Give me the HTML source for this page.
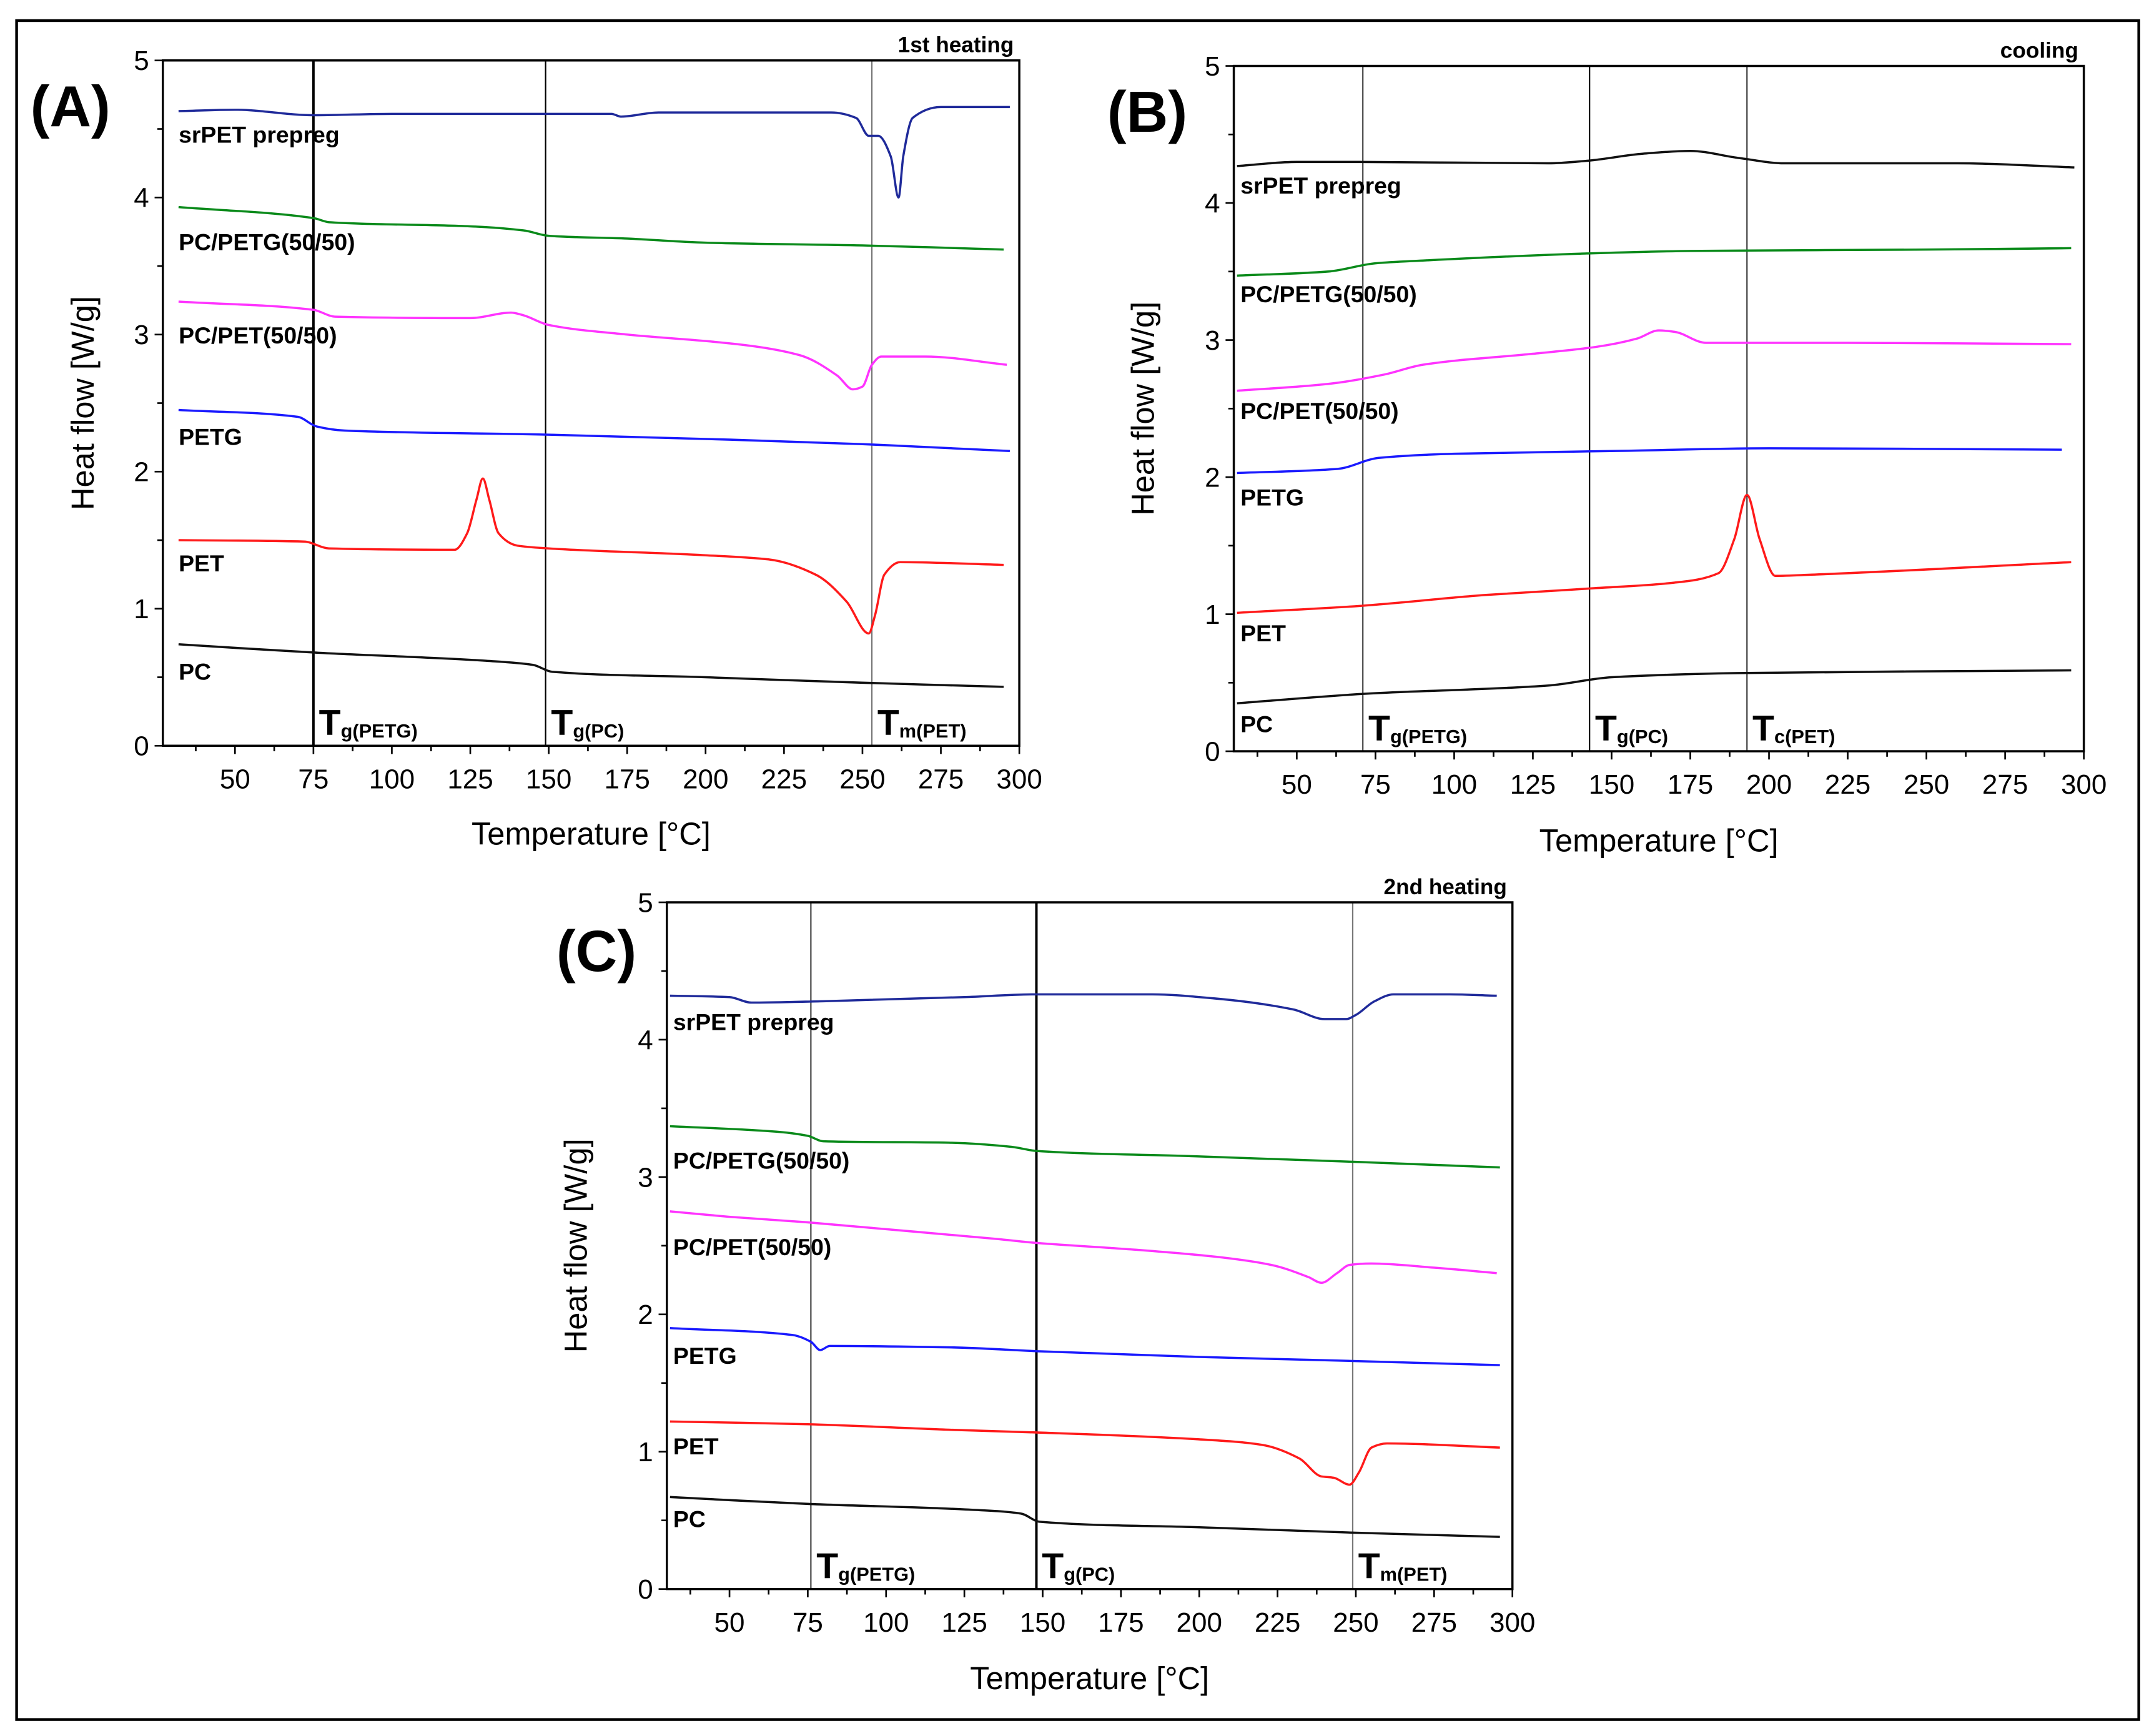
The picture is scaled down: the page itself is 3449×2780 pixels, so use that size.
<!DOCTYPE html>
<html><head><meta charset="utf-8">
<style>
html,body{margin:0;padding:0;background:#fff;}
svg{display:block;font-family:"Liberation Sans",Arial,sans-serif;}
</style></head>
<body>
<svg id="fig" width="3449" height="2780" viewBox="0 0 1568 1264" xmlns="http://www.w3.org/2000/svg">
<rect x="0" y="0" width="1568" height="1264" fill="#fff"/>
<rect x="12" y="15" width="1545" height="1237" fill="none" stroke="#000" stroke-width="2"/>
</svg>
<script>
// ---- Panel A (1st heating) data: [temperature, heat flow]
const aSrpet = [[32,4.63],[50,4.64],[75,4.60],[100,4.61],[170,4.61],[173,4.59],[185,4.62],[240,4.62],[248,4.58],[252,4.45],[255,4.45],[259,4.30],[261.5,4.0],[263,4.3],[266,4.58],[275,4.66],[297,4.66]];
const aPcPetg = [[32,3.93],[75,3.85],[80,3.82],[125,3.79],[142,3.76],[150,3.72],[175,3.70],[200,3.67],[250,3.65],[295,3.62]];
const aPcPet = [[32,3.24],[75,3.18],[82,3.13],[125,3.12],[138,3.16],[142,3.14],[150,3.07],[175,3.00],[210,2.93],[230,2.85],[242,2.70],[247,2.60],[250,2.62],[253,2.78],[256,2.84],[270,2.84],[296,2.78]];
const aPetg = [[32,2.45],[70,2.40],[76,2.33],[85,2.30],[150,2.27],[250,2.20],[297,2.15]];
const aPet = [[32,1.50],[72,1.49],[80,1.44],[120,1.43],[124,1.55],[127,1.80],[129,1.95],[131,1.80],[134,1.55],[140,1.46],[150,1.44],[200,1.39],[220,1.36],[235,1.25],[245,1.05],[252,0.82],[254,0.95],[257,1.25],[262,1.34],[295,1.32]];
const aPc = [[32,0.74],[75,0.68],[130,0.62],[145,0.59],[151,0.54],[200,0.50],[250,0.46],[295,0.43]];
// ---- Panel B (cooling)
const bSrpet = [[31,4.27],[50,4.30],[70,4.30],[130,4.29],[143,4.31],[160,4.36],[175,4.38],[190,4.33],[205,4.29],[260,4.29],[297,4.26]];
const bPcPetg = [[31,3.47],[60,3.50],[75,3.56],[90,3.58],[140,3.63],[175,3.65],[250,3.66],[296,3.67]];
const bPcPet = [[31,2.63],[60,2.68],[78,2.75],[90,2.82],[125,2.90],[145,2.95],[158,3.01],[165,3.07],[170,3.06],[180,2.98],[225,2.98],[296,2.97]];
const bPetg = [[31,2.03],[63,2.06],[76,2.14],[100,2.17],[150,2.19],[200,2.21],[293,2.20]];
const bPet = [[31,1.01],[70,1.06],[110,1.14],[145,1.19],[170,1.23],[184,1.30],[189,1.55],[193,1.87],[197,1.55],[202,1.28],[215,1.29],[296,1.38]];
const bPc = [[31,0.35],[72,0.42],[130,0.48],[150,0.54],[190,0.57],[296,0.59]];
// ---- Panel C (2nd heating)
const cSrpet = [[31,4.32],[50,4.31],[57,4.27],[80,4.28],[125,4.31],[148,4.33],[185,4.33],[205,4.30],[230,4.22],[240,4.15],[247,4.15],[250,4.18],[256,4.28],[262,4.33],[280,4.33],[295,4.32]];
const cPcPetg = [[31,3.37],[65,3.33],[75,3.30],[80,3.26],[120,3.25],[140,3.22],[148,3.19],[200,3.15],[250,3.11],[296,3.07]];
const cPcPet = [[31,2.75],[50,2.71],[75,2.67],[100,2.62],[135,2.55],[148,2.52],[180,2.47],[205,2.42],[223,2.36],[235,2.27],[239,2.23],[244,2.30],[248,2.36],[255,2.37],[275,2.34],[295,2.30]];
const cPetg = [[31,1.90],[70,1.85],[76,1.80],[79,1.74],[82,1.77],[120,1.76],[150,1.73],[200,1.69],[250,1.66],[296,1.63]];
const cPet = [[31,1.22],[75,1.20],[120,1.16],[148,1.14],[200,1.09],[220,1.05],[232,0.95],[239,0.82],[243,0.81],[248,0.76],[251,0.85],[255,1.03],[260,1.06],[296,1.03]];
const cPc = [[31,0.67],[75,0.62],[125,0.58],[143,0.55],[149,0.49],[200,0.45],[250,0.41],[296,0.38]];

const xTicks = [50,75,100,125,150,175,200,225,250,275,300];
const yTicks = [0,1,2,3,4,5];
const seriesNames = ["srPET prepreg","PC/PETG(50/50)","PC/PET(50/50)","PETG","PET","PC"];
const aMarkers = [75,149,253];
const bMarkers = [71,143,193];
const cMarkers = [76,148,249];
const aMarkerLabels = ["g(PETG)","g(PC)","m(PET)"];
const bMarkerLabels = ["g(PETG)","g(PC)","c(PET)"];
const cMarkerLabels = ["g(PETG)","g(PC)","m(PET)"];

const NS="http://www.w3.org/2000/svg";
const svg=document.getElementById('fig');
function mk(tag,attrs,parent){const e=document.createElementNS(NS,tag);for(const k in attrs)e.setAttribute(k,attrs[k]);(parent||svg).appendChild(e);return e;}

// monotone cubic (Fritsch-Carlson) path through pixel points sorted by x
function smoothPath(p){
  const n=p.length; const dx=[],m=[],t=[];
  for(let i=0;i<n-1;i++){dx[i]=p[i+1][0]-p[i][0]; m[i]=(p[i+1][1]-p[i][1])/dx[i];}
  t[0]=m[0]; t[n-1]=m[n-2];
  for(let i=1;i<n-1;i++){
    if(m[i-1]*m[i]<=0) t[i]=0;
    else { const w1=2*dx[i]+dx[i-1], w2=dx[i]+2*dx[i-1]; t[i]=(w1+w2)/(w1/m[i-1]+w2/m[i]); }
  }
  let d='M'+p[0][0].toFixed(1)+','+p[0][1].toFixed(1);
  for(let i=0;i<n-1;i++){
    const h=dx[i]/3;
    d+='C'+(p[i][0]+h).toFixed(1)+','+(p[i][1]+t[i]*h).toFixed(1)+' '+(p[i+1][0]-h).toFixed(1)+','+(p[i+1][1]-t[i+1]*h).toFixed(1)+' '+p[i+1][0].toFixed(1)+','+p[i+1][1].toFixed(1);
  }
  return d;
}

function panel(cfg){
  const g=mk('g',{});
  
  
  const sx=t=>cfg.x50+(t-50)*(cfg.x300-cfg.x50)/250;
  const sy=v=>cfg.y0-(v)*(cfg.y0-cfg.y5)/5;
  const L=sx(cfg.tmin), R=sx(300), T=sy(5), B=sy(0);
  cfg.markers.forEach((m,i)=>{
    const ln=mk('line',{x1:sx(m),x2:sx(m),y1:T,y2:B,stroke:cfg.markerColors[i],'stroke-width':cfg.markerWidths[i]},g);
    
    
    const tx=mk('text',{x:sx(m)+4,y:B-8,'font-size':26,'font-weight':'bold',fill:'#000'},g);
    
    
    tx.textContent='T';
    const sub=mk('tspan',{'font-size':14,dy:2},tx);sub.textContent=cfg.markerLabels[i];
  });
  const fr=mk('rect',{x:L,y:T,width:R-L,height:B-T,fill:'none',stroke:'#000','stroke-width':1.6},g);
  
  
  for(let t=37.5;t<=300;t+=12.5){
    if(t<cfg.tmin)continue;
    const major=(t%25===0);
    mk('line',{x1:sx(t),x2:sx(t),y1:B,y2:B+(major?6:4),stroke:'#000','stroke-width':1.2},g);
  }
  xTicks.forEach(t=>{
    const tx=mk('text',{x:sx(t),y:B+31,'font-size':20,'text-anchor':'middle',fill:'#000'},g);
    
    
    tx.textContent=t;
  });
  for(let v=0;v<=5;v+=0.5){
    mk('line',{x1:L,x2:L-(v%1===0?6:4),y1:sy(v),y2:sy(v),stroke:'#000','stroke-width':1.2},g);
  }
  yTicks.forEach(v=>{
    const tx=mk('text',{x:L-10,y:sy(v)+7,'font-size':20,'text-anchor':'end',fill:'#000'},g);
    
    
    tx.textContent=v;
  });
  const colors=['#1f2a9a','#0a8a1a','#ff33ff','#1a1aff','#ff1a1a','#111'];
  cfg.series.forEach((s,i)=>{
    const pts=s.map(p=>[sx(p[0]),sy(p[1])]);
    const col=(cfg.id==='b'&&i===0)?'#111':colors[i];
    const pth=mk('path',{d:smoothPath(pts),fill:'none',stroke:col,'stroke-width':1.6,'stroke-linejoin':'round'},g);
    
    
    const lb=mk('text',{x:cfg.labelX,y:cfg.labelY[i],'font-size':17,'font-weight':'bold',fill:'#000'},g);
    
    
    lb.textContent=seriesNames[i];
  });
  const xt=mk('text',{x:(L+R)/2,y:cfg.xTitleY,'font-size':23,'text-anchor':'middle',fill:'#000'},g);
  
  
  xt.textContent='Temperature [°C]';
  const yt=mk('text',{x:0,y:0,'font-size':23,'text-anchor':'middle',fill:'#000',transform:'translate('+cfg.yTitleX+','+(T+B)/2+') rotate(-90)'},g);
  
  
  yt.textContent='Heat flow [W/g]';
  const pl=mk('text',{x:cfg.panelX,y:cfg.panelY,'font-size':42,'font-weight':'bold',fill:'#000'},g);
  
  
  pl.textContent=cfg.letter;
  const ct=mk('text',{x:R-4,y:T-6,'font-size':16,'font-weight':'bold','text-anchor':'end',fill:'#000'},g);
  
  
  ct.textContent=cfg.cond;
}

panel({id:'a',x50:171,x300:742,y0:543,y5:44,tmin:27,series:[aSrpet,aPcPetg,aPcPet,aPetg,aPet,aPc],
  markers:aMarkers,markerLabels:aMarkerLabels,markerColors:['#000','#000','#777'],markerWidths:[1.8,1,1],
  labelX:130,labelY:[104,182,250,324,416,495],xTitleY:615,yTitleX:68,panelX:22,panelY:92,letter:'(A)',cond:'1st heating'});
panel({id:'b',x50:944,x300:1517,y0:547,y5:48,tmin:30,series:[bSrpet,bPcPetg,bPcPet,bPetg,bPet,bPc],
  markers:bMarkers,markerLabels:bMarkerLabels,markerColors:['#000','#000','#000'],markerWidths:[0.8,1,0.8],
  labelX:903,labelY:[141,220,305,368,467,533],xTitleY:620,yTitleX:840,panelX:806,panelY:96,letter:'(B)',cond:'cooling'});
panel({id:'c',x50:531,x300:1101,y0:1157,y5:657,tmin:30,series:[cSrpet,cPcPetg,cPcPet,cPetg,cPet,cPc],
  markers:cMarkers,markerLabels:cMarkerLabels,markerColors:['#000','#000','#777'],markerWidths:[0.8,1.8,1],
  labelX:490,labelY:[750,851,914,993,1059,1112],xTitleY:1230,yTitleX:427,panelX:405,panelY:707,letter:'(C)',cond:'2nd heating'});
</script>
</body></html>
